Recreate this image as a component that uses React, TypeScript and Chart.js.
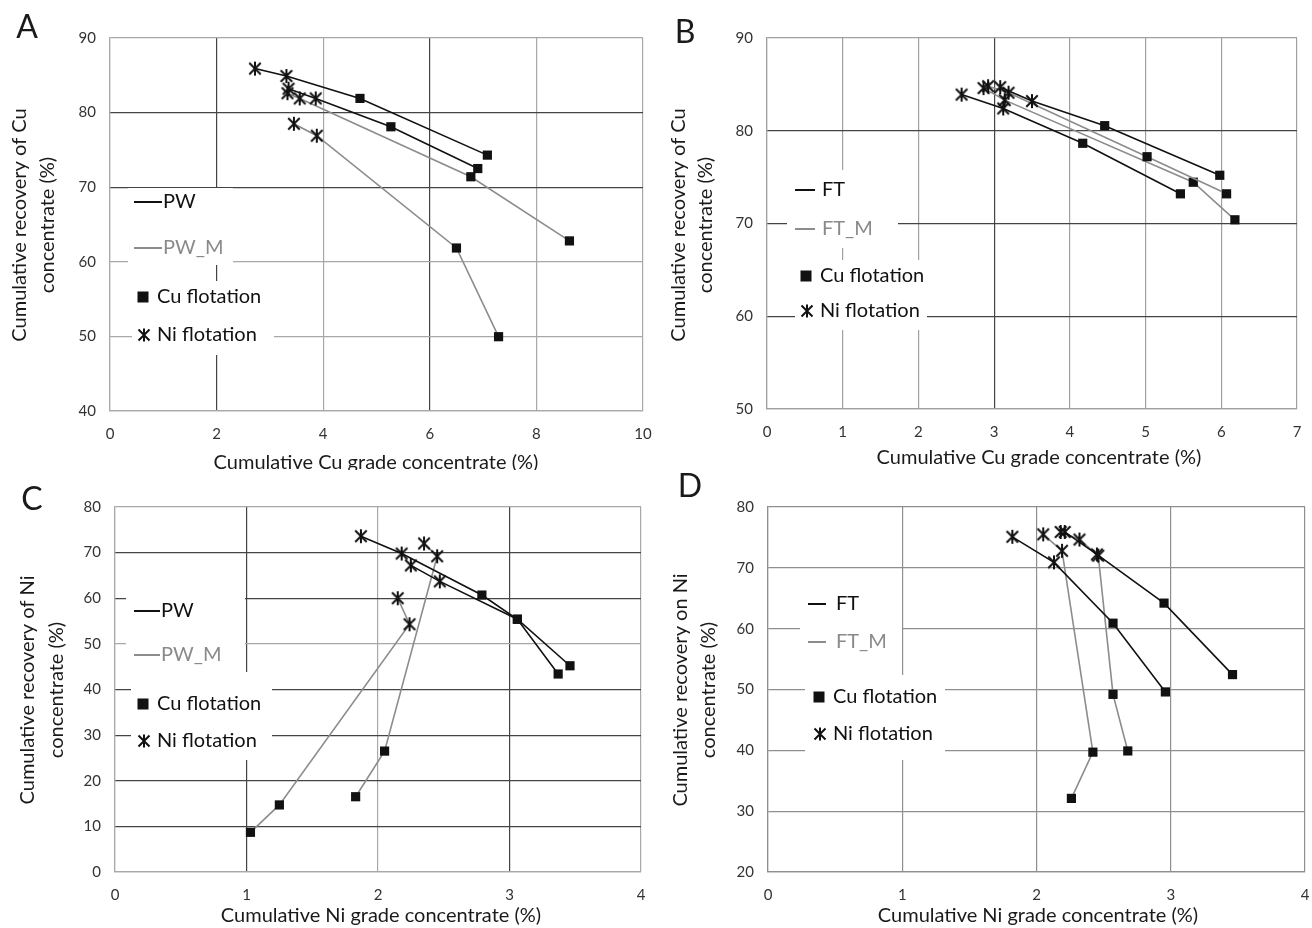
import React, { useEffect, useRef } from "react";
import { Chart, registerables } from "chart.js";
Chart.register(...registerables);

const FONT = "Lato, 'Open Sans', sans-serif";

// ---------- Panel A: Cu grade vs Cu recovery (PW / PW_M) ----------
const aPw1Grade = [2.72, 3.31, 4.69, 7.08];
const aPw1Recovery = [85.9, 84.9, 81.9, 74.3];
const aPw2Grade = [3.35, 3.86, 5.27, 6.9];
const aPw2Recovery = [83.2, 81.9, 78.1, 72.5];
const aPwm1Grade = [3.33, 3.56, 6.77, 8.62];
const aPwm1Recovery = [82.6, 81.9, 71.4, 62.8];
const aPwm2Grade = [3.45, 3.88, 6.5, 7.29];
const aPwm2Recovery = [78.5, 76.9, 61.85, 49.96];

// ---------- Panel B: Cu grade vs Cu recovery (FT / FT_M) ----------
const bFt1Grade = [2.57, 3.12, 4.17, 5.46];
const bFt1Recovery = [83.9, 82.4, 78.65, 73.2];
const bFt2Grade = [3.08, 3.5, 4.46, 5.98];
const bFt2Recovery = [84.7, 83.2, 80.55, 75.2];
const bFtm1Grade = [2.92, 3.19, 5.02, 6.07];
const bFtm1Recovery = [84.8, 84.1, 77.2, 73.2];
const bFtm2Grade = [2.86, 3.14, 5.63, 6.18];
const bFtm2Recovery = [84.6, 83.3, 74.45, 70.4];

// ---------- Panel C: Ni grade vs Ni recovery (PW / PW_M) ----------
const cPw1Grade = [1.87, 2.18, 2.79, 3.06, 3.37];
const cPw1Recovery = [73.6, 69.8, 60.7, 55.4, 43.4];
const cPw2Grade = [2.25, 2.47, 3.06, 3.46];
const cPw2Recovery = [67.2, 63.7, 55.4, 45.2];
const cPwm1Grade = [2.35, 2.45, 2.05, 1.83];
const cPwm1Recovery = [72.0, 69.2, 26.5, 16.5];
const cPwm2Grade = [2.15, 2.24, 1.25, 1.03];
const cPwm2Recovery = [60.0, 54.3, 14.7, 8.7];

// ---------- Panel D: Ni grade vs Ni recovery (FT / FT_M) ----------
const dFt1Grade = [1.82, 2.13, 2.57, 2.96];
const dFt1Recovery = [75.1, 70.9, 60.9, 49.6];
const dFt2Grade = [2.21, 2.45, 2.95, 3.46];
const dFt2Recovery = [75.9, 72.2, 64.2, 52.45];
const dFtm1Grade = [2.05, 2.19, 2.42, 2.26];
const dFtm1Recovery = [75.5, 72.8, 39.7, 32.1];
const dFtm2Grade = [2.18, 2.32, 2.46, 2.57, 2.68];
const dFtm2Recovery = [75.9, 74.65, 72.0, 49.2, 39.9];

// Flotation stage of each point (Ni = star marker, Cu = square marker)
const stages4 = ["Ni", "Ni", "Cu", "Cu"];
const stagesNi2Cu3 = ["Ni", "Ni", "Cu", "Cu", "Cu"];
const stagesNi3Cu2 = ["Ni", "Ni", "Ni", "Cu", "Cu"];

// Legend texts
const legendCu = "Cu flotation";
const legendNi = "Ni flotation";

const MAIN_COLOR = "#111111";
const MOD_COLOR = "#8c8c8c";

let starCache: HTMLCanvasElement | null = null;
function starImage(): HTMLCanvasElement {
  if (starCache) return starCache;
  const c = document.createElement("canvas");
  c.width = 16;
  c.height = 16;
  const g = c.getContext("2d")!;
  drawStar(g, 8, 8, 1.15);
  starCache = c;
  return c;
}

function drawStar(g: CanvasRenderingContext2D, cx: number, cy: number, s: number) {
  g.save();
  g.strokeStyle = "#111";
  g.lineWidth = 2;
  g.lineCap = "butt";
  g.beginPath();
  g.moveTo(cx - 5 * s, cy - 5 * s);
  g.lineTo(cx + 5 * s, cy + 5 * s);
  g.moveTo(cx + 5 * s, cy - 5 * s);
  g.lineTo(cx - 5 * s, cy + 5 * s);
  g.moveTo(cx, cy - 6 * s);
  g.lineTo(cx, cy + 6 * s);
  g.stroke();
  g.restore();
}

function makeSeries(grade: number[], recovery: number[], stage: string[], modified: boolean) {
  const color = modified ? MOD_COLOR : MAIN_COLOR;
  return {
    data: grade.map((g, i) => ({ x: g, y: recovery[i] })),
    showLine: true,
    borderColor: color,
    borderWidth: 1.6,
    pointStyle: stage.map((s) => (s === "Ni" ? starImage() : "rect")),
    pointRadius: stage.map((s) => (s === "Ni" ? 7 : 6.5)),
    pointBackgroundColor: "#111",
    pointBorderColor: "#111",
    pointBorderWidth: 0,
  };
}

type Box = { x: number; y: number; w: number; h: number };
type PanelLayout = {
  left: number;
  top: number;
  width: number;
  height: number;
  chartLeft: number;
  chartRight: number;
  chartTop: number;
  chartBottom: number;
  xMin: number;
  xMax: number;
  xStep: number;
  yMin: number;
  yMax: number;
  yStep: number;
  xDark: number[];
  yDark: number[];
  gridDark: string;
  gridLight: string;
  letter: string;
  letterPos: [number, number];
  xTitle: string;
  xTitlePos: [number, number];
  yTitle: string[];
  yTitleX: number[];
  yTitleCy: number;
  names: [string, string];
  boxes: Box[];
  lineItem: { x1: number; x2: number; tx: number; ys: number[] };
  markerItem: { mx: number; tx: number; ys: number[] };
};

function decorPlugin(p: PanelLayout) {
  return {
    id: "decor" + p.letter,
    beforeDatasetsDraw(chart: any) {
      const ctx: CanvasRenderingContext2D = chart.ctx;
      ctx.save();
      ctx.fillStyle = "#fff";
      p.boxes.forEach((b) => ctx.fillRect(b.x, b.y, b.w, b.h));
      ctx.font = `20px ${FONT}`;
      ctx.textBaseline = "middle";
      ctx.textAlign = "left";
      const colors = [MAIN_COLOR, MOD_COLOR];
      p.lineItem.ys.forEach((y, i) => {
        ctx.strokeStyle = colors[i];
        ctx.lineWidth = 2;
        ctx.beginPath();
        ctx.moveTo(p.lineItem.x1, y);
        ctx.lineTo(p.lineItem.x2, y);
        ctx.stroke();
        ctx.fillStyle = i === 0 ? "#111" : "#8a8a8a";
        ctx.fillText(p.names[i], p.lineItem.tx, y);
      });
      const [yCu, yNi] = p.markerItem.ys;
      ctx.fillStyle = "#111";
      ctx.fillRect(p.markerItem.mx - 5.5, yCu - 5.5, 11, 11);
      ctx.fillText(legendCu, p.markerItem.tx, yCu);
      drawStar(ctx, p.markerItem.mx + 1, yNi, 1.1);
      ctx.fillText(legendNi, p.markerItem.tx, yNi);
      ctx.restore();
    },
    afterDraw(chart: any) {
      const ctx: CanvasRenderingContext2D = chart.ctx;
      ctx.save();
      ctx.fillStyle = "#1a1a1a";
      ctx.textAlign = "center";
      ctx.textBaseline = "middle";
      ctx.font = `32px ${FONT}`;
      ctx.fillText(p.letter, p.letterPos[0], p.letterPos[1]);
      ctx.font = `20px ${FONT}`;
      ctx.fillText(p.xTitle, p.xTitlePos[0], p.xTitlePos[1]);
      p.yTitle.forEach((t, i) => {
        ctx.save();
        ctx.translate(p.yTitleX[i], p.yTitleCy);
        ctx.rotate(-Math.PI / 2);
        ctx.fillText(t, 0, 0);
        ctx.restore();
      });
      ctx.restore();
    },
  };
}

function Panel({ layout, datasets }: { layout: PanelLayout; datasets: any[] }) {
  const ref = useRef<HTMLCanvasElement>(null);
  useEffect(() => {
    const p = layout;
    const gridColor = (dark: number[]) => (c: any) => {
      const v = c.tick ? c.tick.value : NaN;
      return dark.some((d) => Math.abs(d - v) < 1e-9) ? p.gridDark : p.gridLight;
    };
    const chart = new Chart(ref.current!, {
      type: "scatter",
      data: { datasets },
      options: {
        responsive: false,
        animation: false,
        events: [],
        layout: {
          padding: {
            left: 0,
            top: p.chartTop,
            right: p.width - p.chartRight,
            bottom: 0,
          },
        },
        plugins: { legend: { display: false }, tooltip: { enabled: false } },
        scales: {
          x: {
            type: "linear",
            min: p.xMin,
            max: p.xMax,
            afterFit: (s: any) => {
              s.height = p.height - p.chartBottom;
              s.paddingLeft = 0;
              s.paddingRight = 0;
            },
            ticks: {
              stepSize: p.xStep,
              padding: 14,
              color: "#333",
              font: { family: FONT, size: 15 },
            },
            grid: { color: gridColor(p.xDark), lineWidth: 1.2, drawTicks: false },
            border: { display: true, color: p.gridLight, width: 1.2 },
          },
          y: {
            type: "linear",
            min: p.yMin,
            max: p.yMax,
            afterFit: (s: any) => {
              s.width = p.chartLeft;
              s.paddingTop = 0;
              s.paddingBottom = 0;
            },
            ticks: {
              stepSize: p.yStep,
              padding: 14,
              color: "#333",
              font: { family: FONT, size: 15 },
            },
            grid: { color: gridColor(p.yDark), lineWidth: 1.2, drawTicks: false },
            border: { display: true, color: p.gridLight, width: 1.2 },
          },
        },
      } as any,
      plugins: [decorPlugin(p)],
    });
    return () => chart.destroy();
  }, [layout, datasets]);
  return (
    <canvas
      ref={ref}
      width={layout.width}
      height={layout.height}
      style={{ position: "absolute", left: layout.left, top: layout.top, width: layout.width, height: layout.height }}
    />
  );
}

const layoutA: PanelLayout = {
  left: 0, top: 0, width: 656, height: 470,
  chartLeft: 110, chartRight: 643, chartTop: 38, chartBottom: 411,
  xMin: 0, xMax: 10, xStep: 2, yMin: 40, yMax: 90, yStep: 10,
  xDark: [2, 6], yDark: [80, 70], gridDark: "#444", gridLight: "#a8a8a8",
  letter: "A", letterPos: [27, 28],
  xTitle: "Cumulative Cu grade concentrate (%)", xTitlePos: [376, 463],
  yTitle: ["Cumulative recovery of Cu", "concentrate (%)"], yTitleX: [20, 48], yTitleCy: 225,
  names: ["PW", "PW_M"],
  boxes: [ { x: 128, y: 188, w: 105, h: 77 }, { x: 132, y: 281, w: 142, h: 74 } ],
  lineItem: { x1: 134, x2: 162, tx: 163, ys: [202, 248] },
  markerItem: { mx: 143, tx: 157, ys: [297, 335] },
};

const layoutB: PanelLayout = {
  left: 656, top: 0, width: 656, height: 470,
  chartLeft: 111, chartRight: 641, chartTop: 38, chartBottom: 409,
  xMin: 0, xMax: 7, xStep: 1, yMin: 50, yMax: 90, yStep: 10,
  xDark: [3], yDark: [80, 70, 60], gridDark: "#444", gridLight: "#a0a0a0",
  letter: "B", letterPos: [29, 33],
  xTitle: "Cumulative Cu grade concentrate (%)", xTitlePos: [383, 458],
  yTitle: ["Cumulative recovery of Cu", "concentrate (%)"], yTitleX: [23, 50], yTitleCy: 225,
  names: ["FT", "FT_M"],
  boxes: [ { x: 131, y: 170, w: 111, h: 78 }, { x: 139, y: 260, w: 132, h: 70 } ],
  lineItem: { x1: 139, x2: 159, tx: 166, ys: [190, 229] },
  markerItem: { mx: 150, tx: 164, ys: [276, 311] },
};

const layoutC: PanelLayout = {
  left: 0, top: 470, width: 656, height: 458,
  chartLeft: 115, chartRight: 641, chartTop: 37, chartBottom: 402,
  xMin: 0, xMax: 4, xStep: 1, yMin: 0, yMax: 80, yStep: 10,
  xDark: [1, 3], yDark: [70, 60, 40, 30, 20, 10], gridDark: "#444", gridLight: "#a8a8a8",
  letter: "C", letterPos: [32, 30],
  xTitle: "Cumulative Ni grade concentrate (%)", xTitlePos: [381, 446],
  yTitle: ["Cumulative recovery of Ni", "concentrate (%)"], yTitleX: [28, 57], yTitleCy: 220,
  names: ["PW", "PW_M"],
  boxes: [ { x: 126, y: 128, w: 119, h: 74 }, { x: 131, y: 202, w: 141, h: 88 } ],
  lineItem: { x1: 134, x2: 160, tx: 161, ys: [141, 185] },
  markerItem: { mx: 143, tx: 157, ys: [234, 271] },
};

const layoutD: PanelLayout = {
  left: 656, top: 470, width: 656, height: 458,
  chartLeft: 112, chartRight: 652, chartTop: 37, chartBottom: 402,
  xMin: 0, xMax: 4, xStep: 1, yMin: 20, yMax: 80, yStep: 10,
  xDark: [], yDark: [], gridDark: "#444", gridLight: "#8f8f8f",
  letter: "D", letterPos: [34, 17],
  xTitle: "Cumulative Ni grade concentrate (%)", xTitlePos: [382, 446],
  yTitle: ["Cumulative recovery on Ni", "concentrate (%)"], yTitleX: [25, 53], yTitleCy: 220,
  names: ["FT", "FT_M"],
  boxes: [ { x: 144, y: 115, w: 102, h: 75 }, { x: 149, y: 205, w: 140, h: 85 } ],
  lineItem: { x1: 152, x2: 170, tx: 180, ys: [134, 172] },
  markerItem: { mx: 163, tx: 177, ys: [227, 264] },
};

export default function App() {
  const dsA = [
    makeSeries(aPw1Grade, aPw1Recovery, stages4, false),
    makeSeries(aPw2Grade, aPw2Recovery, stages4, false),
    makeSeries(aPwm1Grade, aPwm1Recovery, stages4, true),
    makeSeries(aPwm2Grade, aPwm2Recovery, stages4, true),
  ];
  const dsB = [
    makeSeries(bFt1Grade, bFt1Recovery, stages4, false),
    makeSeries(bFt2Grade, bFt2Recovery, stages4, false),
    makeSeries(bFtm1Grade, bFtm1Recovery, stages4, true),
    makeSeries(bFtm2Grade, bFtm2Recovery, stages4, true),
  ];
  const dsC = [
    makeSeries(cPw1Grade, cPw1Recovery, stagesNi2Cu3, false),
    makeSeries(cPw2Grade, cPw2Recovery, stages4, false),
    makeSeries(cPwm1Grade, cPwm1Recovery, stages4, true),
    makeSeries(cPwm2Grade, cPwm2Recovery, stages4, true),
  ];
  const dsD = [
    makeSeries(dFt1Grade, dFt1Recovery, stages4, false),
    makeSeries(dFt2Grade, dFt2Recovery, stages4, false),
    makeSeries(dFtm1Grade, dFtm1Recovery, stages4, true),
    makeSeries(dFtm2Grade, dFtm2Recovery, stagesNi3Cu2, true),
  ];
  return (
    <div style={{ position: "absolute", left: 0, top: 0, width: 1312, height: 928, background: "#fff", overflow: "hidden" }}>
      <Panel layout={layoutA} datasets={dsA} />
      <Panel layout={layoutB} datasets={dsB} />
      <Panel layout={layoutC} datasets={dsC} />
      <Panel layout={layoutD} datasets={dsD} />
    </div>
  );
}
